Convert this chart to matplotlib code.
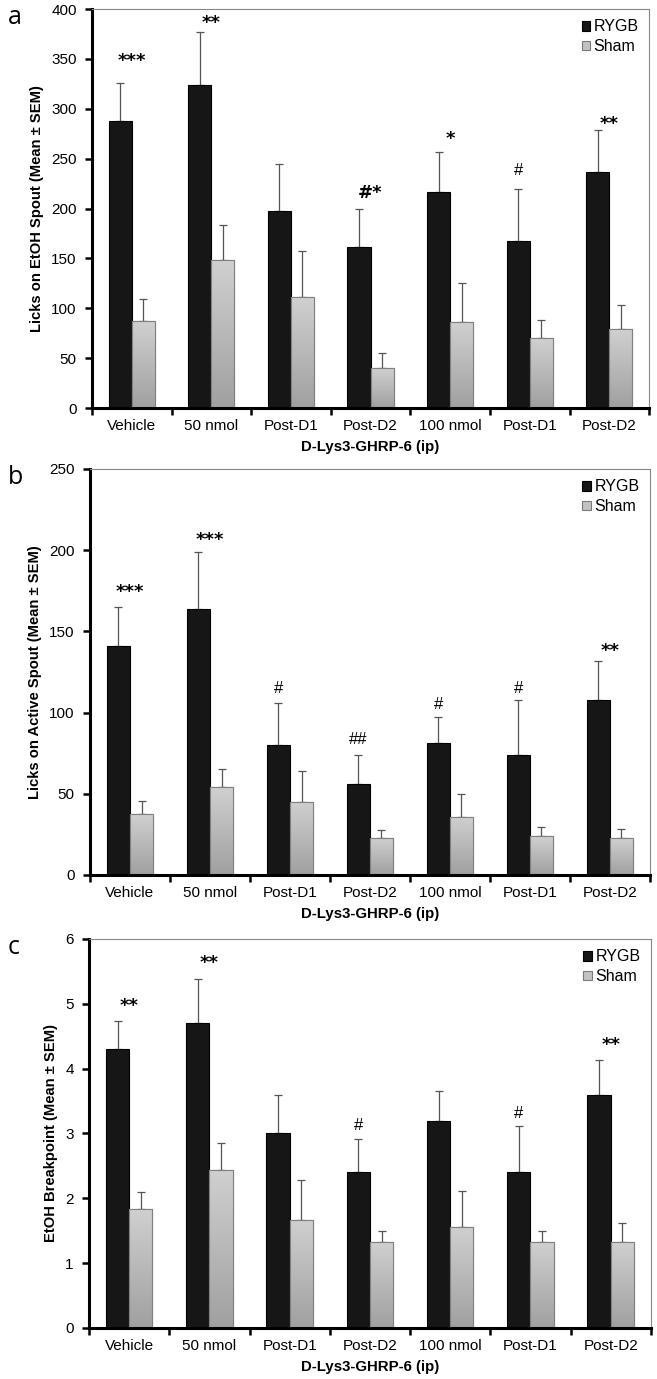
import matplotlib
matplotlib.use("Agg")
import matplotlib.pyplot as plt
import numpy as np
from matplotlib.ticker import FixedLocator, NullFormatter, FixedFormatter

plt.rcParams['font.family'] = ['Liberation Sans', 'DejaVu Sans']

categories = ["Vehicle", "50 nmol", "Post-D1", "Post-D2", "100 nmol", "Post-D1", "Post-D2"]
series_names = ["RYGB", "Sham"]

# Panel a: Licks on EtOH spout
a_rygb = [288, 324, 198, 161, 217, 167, 237]
a_rygb_sem = [38, 53, 47, 39, 40, 53, 42]
a_sham = [87, 148, 111, 40, 86, 70, 79]
a_sham_sem = [22, 36, 46, 15, 39, 18, 24]
a_marks = [("***", 0, "c", 348), ("**", 1, "c", 386), ("#*", 3, "c", 216),
           ("*", 4, "c", 270), ("#", 5, "r", 238), ("**", 6, "c", 285)]

# Panel b: Licks on active spout
b_rygb = [141, 164, 80, 56, 81, 74, 108]
b_rygb_sem = [24, 35, 26, 18, 16, 34, 24]
b_sham = [37.5, 54, 45, 23, 36, 24, 22.5]
b_sham_sem = [8, 11, 19, 5, 14, 5.5, 6]
b_marks = [("***", 0, "c", 174.5), ("***", 1, "c", 206), ("#", 2, "r", 115),
           ("##", 3, "r", 83.5), ("#", 4, "r", 104.7), ("#", 5, "r", 115), ("**", 6, "c", 138)]

# Panel c: EtOH breakpoint
c_rygb = [4.3, 4.7, 3.0, 2.4, 3.2, 2.4, 3.6]
c_rygb_sem = [0.43, 0.69, 0.59, 0.52, 0.45, 0.71, 0.54]
c_sham = [1.83, 2.44, 1.67, 1.33, 1.56, 1.33, 1.33]
c_sham_sem = [0.27, 0.41, 0.62, 0.17, 0.55, 0.17, 0.29]
c_marks = [("**", 0, "c", 4.96), ("**", 1, "c", 5.63), ("#", 3, "r", 3.13),
           ("#", 5, "r", 3.31), ("**", 6, "c", 4.37)]

panels = [
    dict(letter="a", rect=[0.140, 0.7041, 0.848, 0.2893], rygb=a_rygb, rsem=a_rygb_sem,
         sham=a_sham, ssem=a_sham_sem, marks=a_marks, ylim=(0, 400), yticks=np.arange(0, 401, 50),
         ylabel="Licks on EtOH Spout (Mean \u00b1 SEM)"),
    dict(letter="b", rect=[0.137, 0.3655, 0.852, 0.2944], rygb=b_rygb, rsem=b_rygb_sem,
         sham=b_sham, ssem=b_sham_sem, marks=b_marks, ylim=(0, 250), yticks=np.arange(0, 251, 50),
         ylabel="Licks on Active Spout (Mean \u00b1 SEM)"),
    dict(letter="c", rect=[0.1355, 0.0370, 0.855, 0.2821], rygb=c_rygb, rsem=c_rygb_sem,
         sham=c_sham, ssem=c_sham_sem, marks=c_marks, ylim=(0, 6), yticks=np.arange(0, 7, 1),
         ylabel="EtOH Breakpoint (Mean \u00b1 SEM)"),
]

fig = plt.figure(figsize=(6.57, 13.79), dpi=100)
x = np.arange(len(categories))
w = 0.29
sham_cmap = matplotlib.colors.LinearSegmentedColormap.from_list("g", ["#a0a0a0", "#d0d0d0"])

for p in panels:
    ax = fig.add_axes(p["rect"])
    b1 = ax.bar(x - w / 2, p["rygb"], w, color="#161616", edgecolor="#000000", linewidth=0.8,
                label=series_names[0], zorder=2)
    b2 = ax.bar(x + w / 2, p["sham"], w, color="#c2c2c2", edgecolor="#7a7a7a", linewidth=0.8,
                label=series_names[1], zorder=2)
    grad = np.linspace(0, 1, 256).reshape(-1, 1)
    for bar in b2:
        bx, by = bar.get_x(), bar.get_y()
        bw, bh = bar.get_width(), bar.get_height()
        im = ax.imshow(grad, cmap=sham_cmap, extent=[bx, bx + bw, by, by + bh],
                       origin="lower", aspect="auto", zorder=2.1)
        im.set_clip_path(bar)
        ax.add_patch(plt.Rectangle((bx, by), bw, bh, fill=False, edgecolor="#808080",
                                   linewidth=0.8, zorder=2.2))
    ax.errorbar(x - w / 2, p["rygb"], yerr=[np.zeros(len(x)), p["rsem"]], fmt="none",
                ecolor="#555555", elinewidth=0.9, capsize=3, capthick=0.9, zorder=1.5)
    ax.errorbar(x + w / 2, p["sham"], yerr=[np.zeros(len(x)), p["ssem"]], fmt="none",
                ecolor="#555555", elinewidth=0.9, capsize=3, capthick=0.9, zorder=1.5)

    ax.set_xlim(-0.5, len(x) - 0.5)
    ax.set_ylim(*p["ylim"])
    ax.set_autoscale_on(False)
    ax.xaxis.set_major_locator(FixedLocator(np.arange(-0.5, len(x), 1.0)))
    ax.xaxis.set_major_formatter(NullFormatter())
    ax.xaxis.set_minor_locator(FixedLocator(x))
    ax.xaxis.set_minor_formatter(FixedFormatter(categories))
    ax.tick_params(axis="x", which="major", direction="out", length=5, width=1.8, color="black")
    ax.tick_params(axis="x", which="minor", length=0, labelsize=11, pad=8)
    ax.set_yticks(p["yticks"])
    ax.tick_params(axis="y", direction="out", length=5, width=1.8, labelsize=11, pad=6)
    for s in ["left", "bottom"]:
        ax.spines[s].set_linewidth(2.2)
        ax.spines[s].set_color("black")
    for s in ["top", "right"]:
        ax.spines[s].set_linewidth(0.8)
        ax.spines[s].set_color("#888888")
    ax.set_ylabel(p["ylabel"], fontsize=10.6, fontweight="bold", labelpad=5)
    ax.set_xlabel("D-Lys3-GHRP-6 (ip)", fontsize=10.8, fontweight="bold", labelpad=5)

    for txt, i, pos, yv in p["marks"]:
        xx = i if pos == "c" else i - w / 2
        if "*" in txt:
            ax.text(xx, yv, txt, ha="center", va="center", fontsize=13, fontweight="bold",
                    family=["DejaVu Sans"], zorder=3)
        else:
            ax.text(xx, yv, txt, ha="center", va="center", fontsize=12, zorder=3)

    leg = ax.legend(loc="upper right", frameon=False, fontsize=11.5, handlelength=0.55,
                    handleheight=0.55, handletextpad=0.2, labelspacing=0.3,
                    borderaxespad=0.25)
    fig.text(0.012, p["rect"][1] + p["rect"][3] + 0.003, p["letter"], fontsize=18,
             family=["Open Sans", "DejaVu Sans"], va="top", ha="left")

fig.savefig("out.png", dpi=100)
